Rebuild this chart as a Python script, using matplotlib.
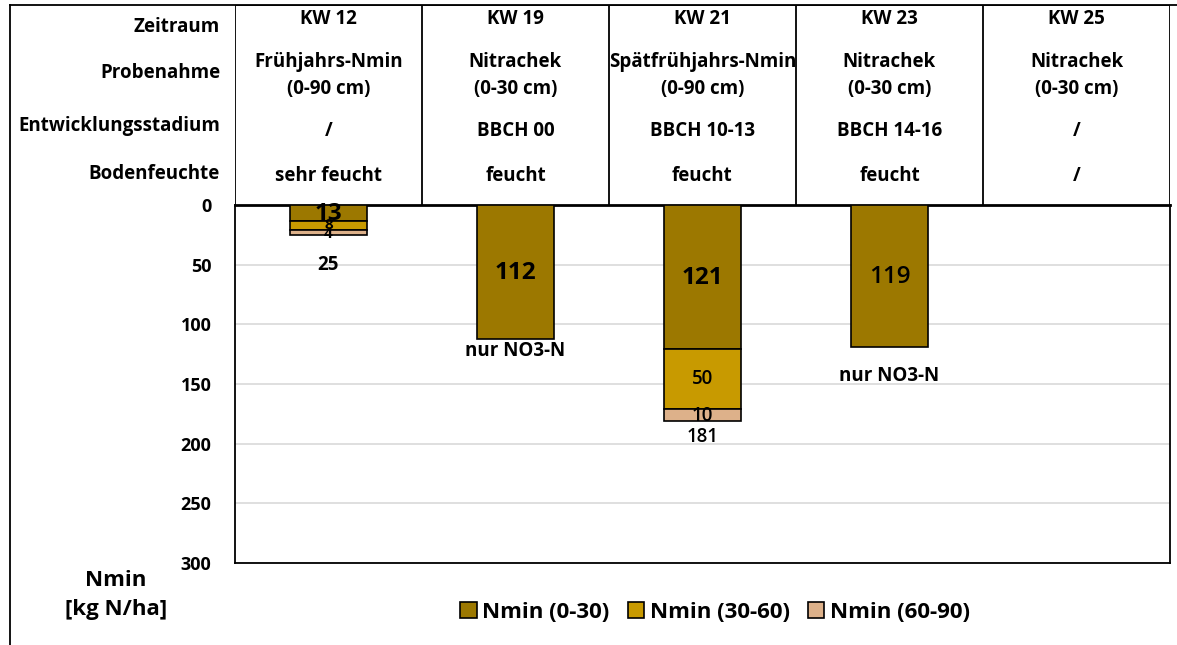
import numpy as np
import matplotlib
matplotlib.use("Agg")
import matplotlib.pyplot as plt
from matplotlib.patches import Patch
from matplotlib.lines import Line2D
from matplotlib import transforms

plt.rcParams["font.family"] = ["Open Sans", "DejaVu Sans"]

# --- data -------------------------------------------------------------
weeks = ["KW 12", "KW 19", "KW 21", "KW 23", "KW 25"]
probe_line1 = ["Frühjahrs-Nmin", "Nitrachek", "Spätfrühjahrs-Nmin", "Nitrachek", "Nitrachek"]
probe_line2 = ["(0-90 cm)", "(0-30 cm)", "(0-90 cm)", "(0-30 cm)", "(0-30 cm)"]
stadium = ["/", "BBCH 00", "BBCH 10-13", "BBCH 14-16", "/"]
feuchte = ["sehr feucht", "feucht", "feucht", "feucht", "/"]
row_names = ["Zeitraum", "Probenahme", "Entwicklungsstadium", "Bodenfeuchte"]

nmin_0_30 = [13, 112, 121, 119, 0]
nmin_30_60 = [8, 0, 50, 0, 0]
nmin_60_90 = [4, 0, 10, 0, 0]
totals = [25, None, 181, None, None]
notes = [None, "nur NO3-N", None, "nur NO3-N", None]
# where the extra labels sit on the value axis
total_label_at = [50, None, 194, None, None]
note_label_at = [None, 122, None, 143, None]

series_names = ["Nmin (0-30)", "Nmin (30-60)", "Nmin (60-90)"]
colors = ["#9C7800", "#C89A00", "#DDB18A"]
yticks = [0, 50, 100, 150, 200, 250, 300]

# --- figure -----------------------------------------------------------
W, H = 1177, 645
fig = plt.figure(figsize=(W / 100, H / 100), dpi=100)


def fx(px):
    return px / W


def fy(py):
    return 1 - py / H


ax = fig.add_axes([fx(235), fy(563), fx(1170) - fx(235), fy(205) - fy(563)])
head = fig.add_axes([fx(235), fy(205), fx(1170) - fx(235), fy(5) - fy(205)], sharex=ax)

HF = 13.5   # header font size
x = np.arange(len(weeks))
bw = 0.41
layers = [nmin_0_30, nmin_30_60, nmin_60_90]
bottom = np.zeros(len(weeks))
for vals, col, name in zip(layers, colors, series_names):
    vals = np.array(vals, dtype=float)
    mask = vals > 0
    ax.bar(x[mask], vals[mask], bw, bottom=bottom[mask], color=col,
           edgecolor="black", linewidth=1.2, label=name, zorder=3)
    bottom += vals

# segment labels
for i in range(len(weeks)):
    v0, v1, v2 = nmin_0_30[i], nmin_30_60[i], nmin_60_90[i]
    if v0:
        w = "semibold" if i == 3 else "bold"
        ax.text(x[i], v0 / 2 + 1, str(v0), ha="center", va="center",
                fontsize=17.5, fontweight=w, zorder=4)
    if v1:
        small = v1 < 20
        ax.text(x[i], v0 + v1 / 2, str(v1), ha="center", va="center",
                fontsize=11 if small else 13.5,
                fontweight="bold" if small else "semibold", zorder=4)
    if v2:
        small = v2 < 5
        ax.text(x[i], v0 + v1 + v2 / 2 + 1, str(v2), ha="center", va="center",
                fontsize=11 if small else 13.5,
                fontweight="bold" if small else "semibold", zorder=4)
    if totals[i] is not None:
        ax.text(x[i], total_label_at[i], str(totals[i]), ha="center", va="center",
                fontsize=13.5, fontweight="bold" if i == 0 else "semibold", zorder=4)
    if notes[i] is not None:
        ax.text(x[i], note_label_at[i], notes[i], ha="center", va="center",
                fontsize=13.5, fontweight="bold", zorder=4)

ax.set_ylim(300, 0)
ax.set_xlim(-0.5, len(weeks) - 0.5)
ax.set_yticks(yticks)
ax.set_yticklabels([str(t) for t in yticks], fontsize=13, fontweight="bold")
ax.tick_params(axis="y", length=0, pad=17)
ax.tick_params(axis="x", length=0, labelbottom=False)
ax.grid(axis="y", color="#D9D9D9", linewidth=1.2, zorder=0)
for s in ax.spines.values():
    s.set_linewidth(1.3)
ax.spines["top"].set_linewidth(2.0)

# --- header table -----------------------------------------------------
head.set_ylim(200, 0)
head.axis("off")
for b in np.arange(-0.5, len(weeks), 1.0):
    head.axvline(b, color="black", linewidth=1.3)
head.axhline(0, color="black", linewidth=1.3)

# header rows, in pixels below the top frame line
col_y = {"week": 14, "p1": 57, "p2": 84, "stad": 126, "feu": 171}
label_y = [22, 68, 121, 169]
for i in range(len(weeks)):
    for key, txt in [("week", weeks[i]), ("p1", probe_line1[i]), ("p2", probe_line2[i]),
                     ("stad", stadium[i]), ("feu", feuchte[i])]:
        head.text(x[i], col_y[key], txt, ha="center", va="center",
                  fontsize=HF, fontweight="bold")

tr = transforms.blended_transform_factory(fig.transFigure, head.transData)
for name, yy in zip(row_names, label_y):
    head.text(fx(220), yy, name, transform=tr, ha="right", va="center",
              fontsize=HF, fontweight="bold", clip_on=False)

# outer frame lines
fig.add_artist(Line2D([fx(10), fx(10)], [fy(5), 0], color="black", linewidth=1.3))
fig.add_artist(Line2D([fx(10), 1], [fy(5), fy(5)], color="black", linewidth=1.3))

fig.text(fx(116), fy(581), "Nmin", ha="center", va="center",
         fontsize=16, fontweight="bold")
fig.text(fx(116), fy(610), "[kg N/ha]", ha="center", va="center",
         fontsize=16, fontweight="bold")

handles = [Patch(facecolor=c, edgecolor="black", linewidth=1.2) for c in colors]
fig.legend(handles, series_names, loc="center", bbox_to_anchor=(fx(715), fy(612)),
           ncol=3, frameon=False, prop={"size": 16, "weight": "bold"},
           handlelength=0.75, handleheight=0.75, handletextpad=0.25, columnspacing=0.8)

fig.savefig("out.png", dpi=100)
